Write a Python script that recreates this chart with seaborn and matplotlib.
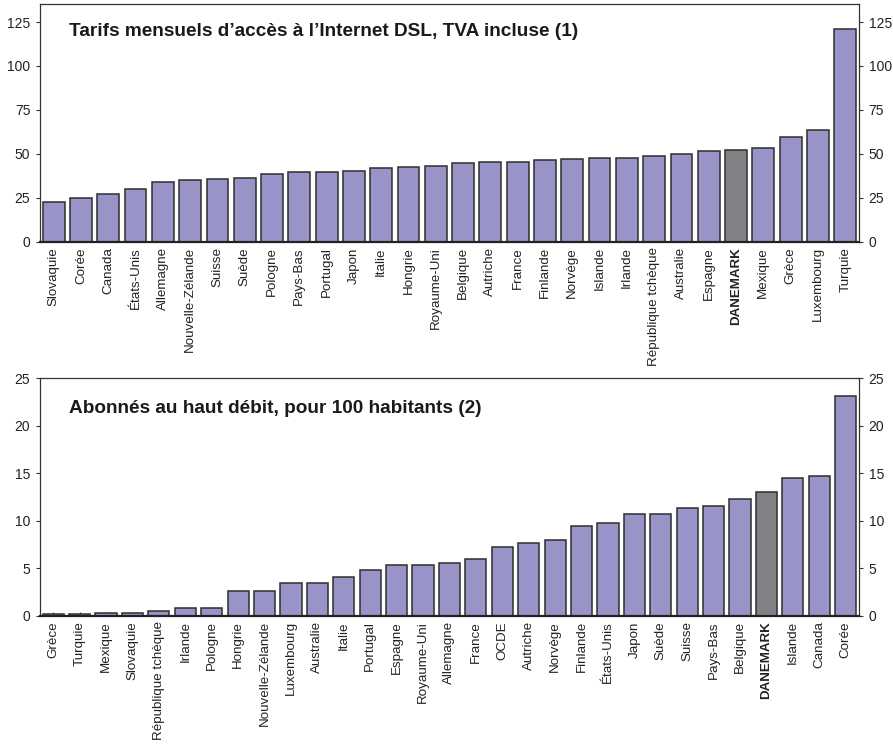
import matplotlib
matplotlib.use("Agg")
import matplotlib.pyplot as plt
import seaborn as sns
import pandas as pd

sns.set_theme(style="white")
plt.rcParams["font.family"] = ["Liberation Sans", "DejaVu Sans"]

# Monthly DSL access tariffs, VAT included
dsl_countries = ["Slovaquie", "Corée", "Canada", "États-Unis", "Allemagne",
                 "Nouvelle-Zélande", "Suisse", "Suède", "Pologne", "Pays-Bas",
                 "Portugal", "Japon", "Italie", "Hongrie", "Royaume-Uni",
                 "Belgique", "Autriche", "France", "Finlande", "Norvège",
                 "Islande", "Irlande", "République tchèque", "Australie",
                 "Espagne", "DANEMARK", "Mexique", "Grèce", "Luxembourg",
                 "Turquie"]
dsl_tariffs = [22.7, 25.1, 27.1, 29.9, 33.9, 35.1, 35.4, 36.2, 38.5, 39.8,
               39.8, 40.2, 41.9, 42.7, 43.1, 45.0, 45.4, 45.4, 46.3, 47.1,
               47.8, 47.8, 49.0, 50.1, 51.4, 52.4, 53.1, 59.3, 63.4, 121.1]

# Broadband subscribers per 100 inhabitants
bb_countries = ["Grèce", "Turquie", "Mexique", "Slovaquie", "République tchèque",
                "Irlande", "Pologne", "Hongrie", "Nouvelle-Zélande", "Luxembourg",
                "Australie", "Italie", "Portugal", "Espagne", "Royaume-Uni",
                "Allemagne", "France", "OCDE", "Autriche", "Norvège", "Finlande",
                "États-Unis", "Japon", "Suède", "Suisse", "Pays-Bas", "Belgique",
                "DANEMARK", "Islande", "Canada", "Corée"]
bb_subscribers = [0.15, 0.15, 0.3, 0.3, 0.5, 0.75, 0.75, 2.6, 2.6, 3.4,
                  3.45, 4.1, 4.75, 5.35, 5.35, 5.55, 5.95, 7.25, 7.6, 8.0,
                  9.45, 9.75, 10.65, 10.7, 11.35, 11.55, 12.25, 13.05, 14.45,
                  14.75, 23.1]

dsl_title = "Tarifs mensuels d’accès à l’Internet DSL, TVA incluse (1)"
bb_title = "Abonnés au haut débit, pour 100 habitants (2)"

HIGHLIGHT = "DANEMARK"
BAR = "#9994c8"
GREY = "#808285"
EDGE = "#2e2e2e"

fig = plt.figure(figsize=(8.93, 7.48), dpi=100)
ax_top = fig.add_axes([0.0448, 0.677, 0.917, 0.317])
ax_bot = fig.add_axes([0.0448, 0.177, 0.917, 0.3174])


def draw_panel(ax, countries, values, ymax, step, title, title_y):
    df = pd.DataFrame({"pays": countries, "valeur": values})
    palette = {c: (GREY if c == HIGHLIGHT else BAR) for c in countries}
    sns.barplot(data=df, x="pays", y="valeur", hue="pays", palette=palette,
                legend=False, width=0.8, edgecolor=EDGE, linewidth=1.1,
                saturation=1, ax=ax)
    ax.set_xlim(-0.5, len(countries) - 0.5)
    ax.set_ylim(0, ymax)
    ax.set_xlabel("")
    ax.set_ylabel("")
    ticks = list(range(0, int(ymax) + 1, step))
    ax.set_yticks(ticks)
    ax.set_yticklabels([str(t) for t in ticks])
    ax.tick_params(axis="y", which="both", left=True, right=True,
                   labelleft=True, labelright=True, direction="out",
                   length=3, width=0.8, color="#333333", labelsize=10,
                   labelcolor="#222222", pad=4)
    ax.tick_params(axis="x", bottom=True, direction="in", length=3,
                   width=0.8, color="#333333", labelsize=9.6,
                   labelcolor="#222222", pad=4)
    ax.set_xticks(range(len(countries)))
    ax.set_xticklabels(countries, rotation=90)
    for lab in ax.get_xticklabels():
        if lab.get_text() == HIGHLIGHT:
            lab.set_fontweight("bold")
    for side in ["top", "left", "right"]:
        ax.spines[side].set_color("#333333")
        ax.spines[side].set_linewidth(0.9)
    ax.spines["bottom"].set_color("#222222")
    ax.spines["bottom"].set_linewidth(1.6)
    ax.text(0.035, title_y, title, transform=ax.transAxes, fontsize=13.7,
            fontweight="bold", color="#1a1a1a", va="center", ha="left")


draw_panel(ax_top, dsl_countries, dsl_tariffs, 135, 25, dsl_title, 0.885)
draw_panel(ax_bot, bb_countries, bb_subscribers, 25, 5, bb_title, 0.871)

fig.savefig("out.png", dpi=100)
